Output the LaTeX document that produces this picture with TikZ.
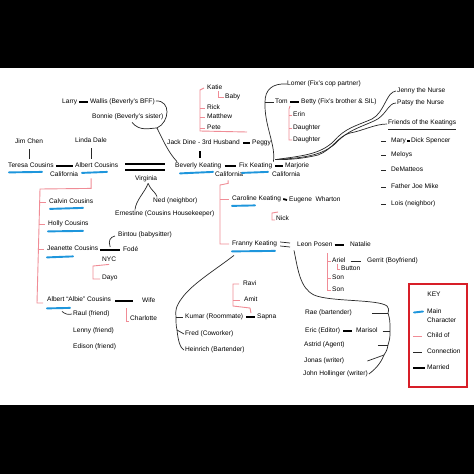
\documentclass[tikz,border=0pt]{standalone}
\usepackage{fontspec}
\setmainfont{Liberation Sans}
\usetikzlibrary{calc}
\definecolor{pinkc}{RGB}{240,140,150}
\definecolor{bluec}{RGB}{30,150,220}
\definecolor{redc}{RGB}{215,30,40}
\definecolor{grayc}{RGB}{40,40,40}
\begin{document}
\begin{tikzpicture}[x=1pt,y=-1pt,
 t/.style={anchor=west,inner sep=0pt,font=\fontsize{6.6}{8}\selectfont,text height=5pt,text depth=1.4pt},
 conn/.style={draw=grayc,line width=0.7pt},
 child/.style={draw=pinkc,line width=0.9pt},
 married/.style={draw=black,line width=2.5pt},
 mainc/.style={draw=bluec,line width=1.9pt,line cap=round},
]
\useasboundingbox (0,0) rectangle (474,474);
\fill[black] (0,0) rectangle (474,474);
\fill[white] (0,68) rectangle (474,405);

% ---------- nodes ----------
\node[t] (larry) at (62,102) {Larry};
\node[t] (wallis) at (90,102) {Wallis (Beverly's BFF)};
\node[t] (bonnie) at (92,117) {Bonnie (Beverly's sister)};
\node[t] (jim) at (15,142) {Jim Chen};
\node[t] (linda) at (75,141) {Linda Dale};
\node[t] (teresa) at (8,166) {Teresa Cousins};
\node[t] (albert) at (75,166) {Albert Cousins};
\node[t] (calif1) at (50,175) {California};
\node[t] (virginia) at (135,179) {Virginia};
\node[t] (ned) at (153,201) {Ned (neighbor)};
\node[t] (ernestine) at (115,214) {Ernestine (Cousins Housekeeper)};
\node[t] (katie) at (207,88) {Katie};
\node[t] (baby) at (225,97) {Baby};
\node[t] (rick) at (207,108) {Rick};
\node[t] (matthew) at (207,117) {Matthew};
\node[t] (pete) at (207,128) {Pete};
\node[t] (jack) at (167,143) {Jack Dine - 3rd Husband};
\node[t] (peggy) at (252,143) {Peggy};
\node[t] (beverly) at (175,166) {Beverly Keating};
\node[t] (fix) at (239,166) {Fix Keating};
\node[t] (calif2) at (215,175) {California};
\node[t] (marjorie) at (285,166) {Marjorie};
\node[t] (calif3) at (272,175) {California};
\node[t] (lomer) at (287,84) {Lomer (Fix's cop partner)};
\node[t] (tom) at (275,102) {Tom};
\node[t] (betty) at (301,102) {Betty (Fix's brother \& SIL)};
\node[t] (erin) at (293,115) {Erin};
\node[t] (daughter1) at (293,128) {Daughter};
\node[t] (daughter2) at (293,140) {Daughter};
\node[t] (jenny) at (397,91) {Jenny the Nurse};
\node[t] (patsy) at (397,103) {Patsy the Nurse};
\node[t] (friends) at (388,123) {Friends of the Keatings};
\node[t] (mary) at (391,141) {Mary};
\node[t] (dick) at (411,141) {Dick Spencer};
\node[t] (meloys) at (391,155) {Meloys};
\node[t] (dematteos) at (391,170) {DeMatteos};
\node[t] (father) at (391,187) {Father Joe Mike};
\node[t] (lois) at (391,204) {Lois (neighbor)};
\node[t] (calvin) at (49,202) {Calvin Cousins};
\node[t] (holly) at (48,224) {Holly Cousins};
\node[t] (jeanette) at (47,249) {Jeanette Cousins};
\node[t] (bintou) at (118,235) {Bintou (babysitter)};
\node[t] (fode) at (123,250) {Fodé};
\node[t] (nyc) at (102,260) {NYC};
\node[t] (dayo) at (102,278) {Dayo};
\node[t] (albie) at (47,300) {Albert “Albie” Cousins};
\node[t] (wife) at (142,301) {Wife};
\node[t] (charlotte) at (130,319) {Charlotte};
\node[t] (raul) at (73,314) {Raul (friend)};
\node[t] (lenny) at (73,331) {Lenny (friend)};
\node[t] (edison) at (73,347) {Edison (friend)};
\node[t] (caroline) at (232,199) {Caroline Keating};
\node[t] (eugene) at (289,200) {Eugene~ Wharton};
\node[t] (nick) at (276,219) {Nick};
\node[t] (franny) at (232,244) {Franny Keating};
\node[t] (leon) at (297,245) {Leon Posen};
\node[t] (natalie) at (350,245) {Natalie};
\node[t] (ariel) at (332,261) {Ariel};
\node[t] (button) at (341,269) {Button};
\node[t] (son1) at (332,278) {Son};
\node[t] (son2) at (332,290) {Son};
\node[t] (gerrit) at (367,261) {Gerrit (Boyfriend)};
\node[t] (ravi) at (243,284) {Ravi};
\node[t] (amit) at (244,300) {Amit};
\node[t] (kumar) at (185,317) {Kumar (Roommate)};
\node[t] (sapna) at (257,317) {Sapna};
\node[t] (fred) at (185,334) {Fred (Coworker)};
\node[t] (heinrich) at (185,350) {Heinrich (Bartender)};
\node[t] (rae) at (305,313) {Rae (bartender)};
\node[t] (eric) at (305,331) {Eric (Editor)};
\node[t] (marisol) at (356,331) {Marisol};
\node[t] (astrid) at (304,345) {Astrid (Agent)};
\node[t] (jonas) at (304,361) {Jonas (writer)};
\node[t] (john) at (303,374) {John Hollinger (writer)};

% key
\node[draw=redc,line width=1.6pt,minimum width=58pt,minimum height=103pt,inner sep=0pt] (keybox) at (438,335.5) {};
\node[t,anchor=center] (keyt) at (434,295) {KEY};
\node[anchor=west,inner sep=0pt,align=left,font=\fontsize{6.6}{9}\selectfont] (keymain) at (427,315.5) {Main\\Character};
\node[t] (keychild) at (427,336) {Child of};
\node[t] (keyconn) at (427,352) {Connection};
\node[t] (keymar) at (427,368) {Married};
\draw[mainc] ($(keymain.west)+(-13,-3)$) -- ($(keymain.west)+(-4,-4)$);
\draw[child] ($(keychild.west)+(-14,0)$) -- ($(keychild.west)+(-5,0)$);
\draw[conn] ($(keyconn.west)+(-14,0)$) -- ($(keyconn.west)+(-5,0)$);
\draw[married] ($(keymar.west)+(-14,0)$) -- ($(keymar.west)+(-2,0)$);

% ---------- main character underlines ----------
\draw[mainc] ($(teresa.south west)+(1,3)$) -- ($(teresa.south west)+(34,2.5)$);
\draw[mainc] ($(albert.south west)+(7,3.5)$) -- ($(albert.south west)+(32,2.5)$);
\draw[mainc] ($(beverly.south west)+(5,4)$) -- ($(beverly.south west)+(38,2.5)$);
\draw[mainc] ($(fix.south west)+(3,3.5)$) -- ($(fix.south west)+(29,2.5)$);
\draw[mainc] ($(calvin.south west)+(1,3.5)$) -- ($(calvin.south west)+(34,2.5)$);
\draw[mainc] ($(holly.south west)+(0,4)$) -- ($(holly.south west)+(35,3.5)$);
\draw[mainc] ($(jeanette.south west)+(0,5)$) -- ($(jeanette.south west)+(26,4)$);
\draw[mainc] ($(albie.south west)+(0,5)$) -- ($(albie.south west)+(23,4.5)$);
\draw[mainc] ($(caroline.south west)+(0,3.5)$) -- ($(caroline.south west)+(23,3)$);
\draw[mainc] ($(franny.south west)+(0,4)$) -- ($(franny.south west)+(43,3.5)$);

% ---------- married bars ----------
\draw[married] ($(larry.east)+(2,0)$) -- ($(wallis.west)+(-2,0)$);
\draw[married] ($(teresa.east)+(2,0)$) -- ($(albert.west)+(-2,0)$);
\draw[married] ($(albert.east)+(7,-2)$) -- ($(beverly.west)+(-10,-2)$);
\draw[married] ($(albert.east)+(7,4)$) -- ($(beverly.west)+(-10,4)$);
\draw[married] ($(jack.south west)+(33,5)$) -- ($(jack.south west |- beverly.north)+(33,-5)$);
\draw[married] ($(jack.east)+(3,0)$) -- ($(peggy.west)+(-2,0)$);
\draw[married] ($(beverly.east)+(3,0)$) -- ($(fix.west)+(-3,0)$);
\draw[married] ($(fix.east)+(3,0)$) -- ($(marjorie.west)+(-2,0)$);
\draw[married] ($(tom.east)+(2,0)$) -- ($(betty.west)+(-2,0)$);
\draw[married,line width=1.6pt] ($(mary.east)+(1,0)$) -- ($(dick.west)+(-1,0)$);
\draw[married] ($(jeanette.east)+(2,1)$) -- coordinate (jf) ($(fode.west)+(-3,0)$);
\draw[married] ($(albie.east)+(4,1)$) -- ($(wife.west)+(-9,0)$);
\draw[married,line width=1.8pt] ($(caroline.east)+(2,0)$) -- ($(eugene.west)+(-2,0)$);
\draw[married] ($(leon.east)+(2,0)$) -- ($(natalie.west)+(-6,0)$);
\draw[married] ($(kumar.east)+(3,0)$) -- ($(sapna.west)+(-2,0)$);
\draw[married] ($(eric.east)+(3,0)$) -- ($(marisol.west)+(-4,0)$);
\draw[conn] ($(franny.east)+(3,-2)$) -- ($(leon.west)+(-7,-2)$);
\draw[conn] ($(franny.east)+(3,2)$) -- ($(leon.west)+(-7,2)$);

% ---------- child-of brackets ----------
\draw[child] ($(katie.west)+(-3,0)$) -- ($(katie.west)+(-7,2)$) -- ($(pete.west)+(-7,3)$) -- ($(pete.west)+(40,4)$);
\foreach \n in {rick,matthew,pete} \draw[child] ($(\n.west)+(-7,0)$) -- ($(\n.west)+(-2,0)$);
\draw[child] ($(katie.south east)+(-4,0)$) |- ($(baby.west)+(-1,0)$);
\draw[child] ($(erin.west)+(-3,-9)$) -- ($(erin.west)+(-4,-6)$) -- ($(daughter2.west)+(-4,0)$) -- ($(daughter2.west)+(-1,0)$);
\foreach \n in {erin,daughter1} \draw[child] ($(\n.west)+(-4,0)$) -- ($(\n.west)+(-1,0)$);
\draw[child] ($(albert.south)+(-5.5,9)$) -- ($(albert.south)+(-5.5,19)$) -- ($(calvin.west)+(-9,-13)$) -- ($(albie.west)+(-10,3)$) -- ($(albie.west)+(-4,3)$);
\foreach \n in {calvin,holly,jeanette} \draw[child] ($(\n.west)+(-9.5,0)$) -- ($(\n.west)+(-3,0)$);
\draw[child] ($(nyc.south)+(0,1)$) -- ($(dayo.west)+(-9,-12)$) -- ($(dayo.west)+(-9,1)$) -- ($(dayo.west)+(-2,1)$);
\draw[child] ($(charlotte.west)+(-4,-11)$) -- ($(charlotte.west)+(-4,2)$) -- ($(charlotte.west)+(-1,2)$);
\draw[child] ($(calif2.south)+(-1,2)$) -- ($(calif2.south)+(-1,5)$) -- ($(caroline.west)+(-12,-14)$) -- ($(franny.west)+(-12,0)$) -- ($(franny.west)+(-3,0)$);
\draw[child] ($(caroline.west)+(-12,0)$) -- ($(caroline.west)+(-3,0)$);
\draw[child] ($(nick.west)+(2,-7)$) -- ($(nick.west)+(-4,-6)$) -- ($(nick.west)+(-4,1)$) -- ($(nick.west)+(-1,1)$);
\draw[child] ($(ariel.west)+(-5,-8)$) -- ($(son2.west)+(-5,0)$) -- ($(son2.west)+(-1,0)$);
\foreach \n in {ariel,son1} \draw[child] ($(\n.west)+(-5,0)$) -- ($(\n.west)+(-1,0)$);
\draw[child] ($(ariel.south west)+(5,0)$) |- ($(button.west)+(-1,0)$);
\draw[child] ($(sapna.west)+(-6,-4)$) -- ($(sapna.west)+(-7,-9)$) -- ($(ravi.west)+(-10,22)$) -- ($(ravi.west)+(-10,0)$) -- ($(ravi.west)+(-4,0)$);
\draw[child] ($(amit.west)+(-11,0)$) -- ($(amit.west)+(-4,0)$);

% ---------- connections ----------
\draw[conn] ($(jim.south)+(0,4)$) -- ($(jim.south |- teresa.north)+(0,-4)$);
\draw[conn] ($(linda.south)+(0,4)$) -- ($(linda.south |- albert.north)+(0,-4)$);
\coordinate (wb) at (157,128);
\draw[conn] ($(wallis.east)+(1,-1)$) .. controls (171,100) and (170,122) .. (wb) .. controls (163,140) and (168,152) .. ($(beverly.north west)+(2,-1)$);
\draw[conn] ($(bonnie.south west)+(40,2)$) .. controls (140,132) and (150,128) .. (wb);
\draw[conn] ($(virginia.south)+(2,1)$) .. controls (145,192) and (136,200) .. ($(ernestine.north west)+(20,-1)$);
\draw[conn] ($(virginia.south)+(2,1)$) .. controls (152,192) and (154,190) .. ($(ned.north west)+(4,-1)$);
\coordinate (tj) at (265,102);
\draw[conn] (lomer.west) .. controls (272,83) and (265,90) .. (tj) .. controls (264,125) and (276,145) .. ($(fix.north east)+(1,-1)$);
\draw[conn] (tj) -- ($(tom.west)+(-1,0)$);
\coordinate (fx) at ($(fix.north east)+(3,-3)$);
\draw[conn] ($(jenny.west)+(-1,0)$) .. controls (386,92) and (385,112) .. (372,119) .. controls (356,126) and (345,128) .. (334,141) .. controls (320,155) and (300,156) .. (fx);
\draw[conn] ($(patsy.west)+(-1,0)$) .. controls (388,103) and (386,116) .. (374,121) .. controls (358,128) and (347,131) .. (336,143) .. controls (322,156) and (302,158) .. (fx);
\draw[conn] ($(friends.west)+(-1,1)$) .. controls (375,124) and (362,131) .. (350,133) .. controls (338,136) and (332,150) .. (318,155) .. controls (306,158) and (290,160) .. (fx);
\draw[conn] ($(friends.south west)+(0,3)$) -- ($(friends.south east)+(0,3)$);
\foreach \n in {mary,meloys,dematteos,father,lois} \draw[conn] ($(\n.west)+(-10,0)$) -- ($(\n.west)+(-5,0)$);
\draw[conn] ($(jf)+(0,-3)$) .. controls (108,241) and (110,237) .. ($(bintou.west)+(-3,1)$);
\draw[conn] ($(albie.south west)+(15,8)$) .. controls (65,314) and (68,315) .. ($(raul.west)+(-1,0)$);
\draw[conn] ($(ariel.east)+(5,0)$) -- ($(gerrit.west)+(-6,0)$);
% Leon's curve to the writers
\coordinate (w1) at (388,313);
\coordinate (w2) at (390,331);
\coordinate (w3) at (388,345);
\coordinate (w4) at (384,355);
\draw[conn] ($(leon.south west)+(-3,2)$) .. controls (298,270) and (300,288) .. (314,295) .. controls (330,302) and (378,299) .. (387,306) .. controls (389,309) .. (w1) .. controls (390,320) .. (w2) .. controls (390,338) .. (w3) .. controls (387,350) .. (w4) .. controls (380,365) and (374,370) .. ($(john.east)+(1,0)$);
\draw[conn] ($(rae.east)+(20,0)$) -- (w1);
\draw[conn] ($(marisol.east)+(5,0)$) -- (w2);
\draw[conn] ($(astrid.east)+(33,0)$) -- (w3);
\draw[conn] ($(jonas.east)+(23,0)$) -- (w4);
% Franny's curve
\coordinate (k1) at (176,317);
\coordinate (f1) at (177,330);
\draw[conn] ($(franny.south west)+(2,8)$) .. controls (215,270) and (192,284) .. (182,298) .. controls (176,306) and (175,311) .. (k1) .. controls (176,322) and (176,326) .. (f1) .. controls (178,340) and (180,348) .. ($(heinrich.west)+(-1,0)$);
\draw[conn] (k1) -- ($(kumar.west)+(-2,0)$);
\draw[conn] (f1) -- ($(fred.west)+(-1,0)$);
\end{tikzpicture}
\end{document}
